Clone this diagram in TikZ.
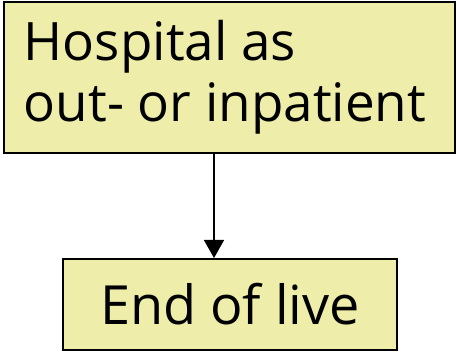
\documentclass[tikz,border=0pt]{standalone}
\usepackage{fontspec}
\setmainfont{Open Sans}
\usetikzlibrary{arrows.meta}
\definecolor{boxfill}{HTML}{EEEEAA}
\tikzset{
  box/.style={draw=black, line width=2pt, fill=boxfill, inner sep=0pt, align=left},
  conn/.style={line width=1.5pt, -{Triangle[length=18pt,width=20pt]}}
}
\begin{document}
\begin{tikzpicture}[x=1pt,y=-1pt]
\useasboundingbox (0,0) rectangle (457,352);
\node[box, minimum width=451pt, minimum height=151pt,
  font=\fontsize{53pt}{61pt}\selectfont] (top) at (229.5,77.5) {Hospital as\hspace*{111pt}\\out- or inpatient\hspace*{9pt}};
\node[box, minimum width=334pt, minimum height=91pt,
  font=\fontsize{54pt}{61pt}\selectfont] (bot) at (230,304.5) {End of live};
\draw[conn] (top.south -| 214,0) -- (bot.north -| 214,0);
\end{tikzpicture}
\end{document}
